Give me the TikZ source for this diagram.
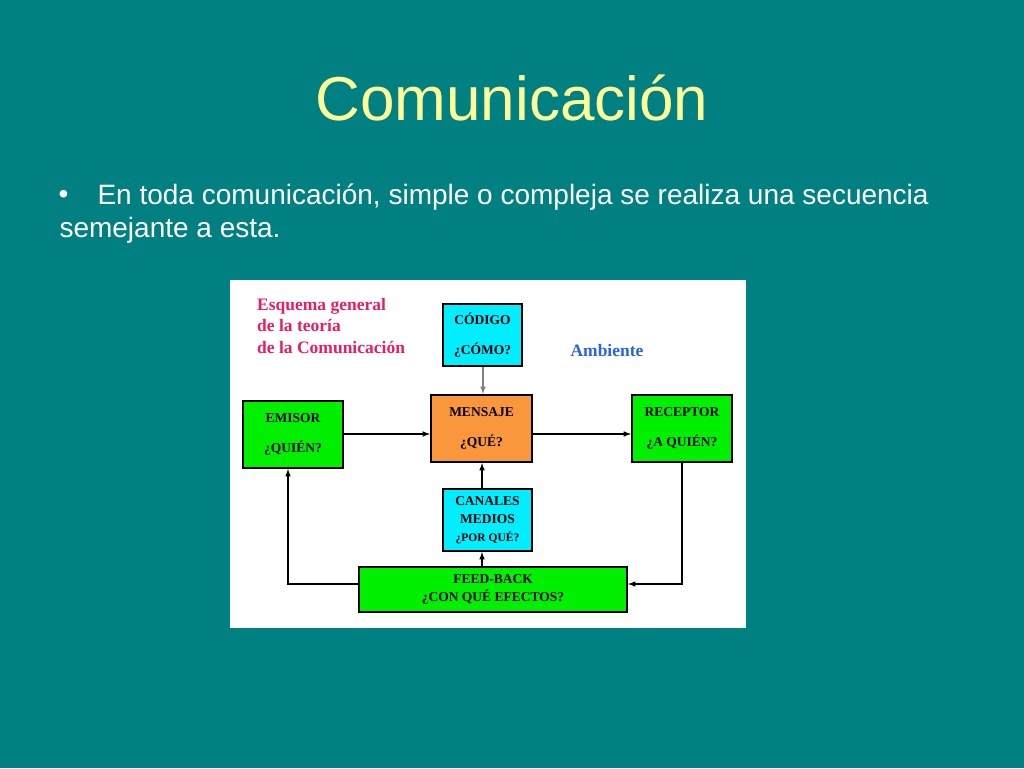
\documentclass[tikz,border=0pt]{standalone}
\usepackage{fontspec}
\setmainfont{Liberation Serif}
\newfontfamily\arialf{Liberation Sans}
\definecolor{teal1}{RGB}{0,128,128}
\definecolor{ttl}{RGB}{255,255,153}
\definecolor{grn}{RGB}{0,240,0}
\definecolor{cyn}{RGB}{0,238,255}
\definecolor{org}{RGB}{250,150,60}
\definecolor{pnk}{RGB}{230,30,100}
\definecolor{blu}{RGB}{40,100,230}
\begin{document}
\begin{tikzpicture}[x=1pt,y=-1pt,
 box/.style={draw=black,line width=2pt,inner sep=0pt,align=center,font=\bfseries\fontsize{13.5}{18}\selectfont},
 arr/.style={-latex,line width=1.5pt}]
\fill[teal1] (0,0) rectangle (1024,768);
\useasboundingbox (0,0) rectangle (1024,768);
\node[ttl,font=\arialf\fontsize{62}{70}\selectfont] (title) at (512,98) {Comunicación};
\node[white,anchor=west,font=\arialf\fontsize{28}{32}\selectfont] (b) at (55,197) {•};
\node[white,anchor=west,font=\arialf\fontsize{28}{32}\selectfont] (l1) at (94,197) {En toda comunicación, simple o compleja se realiza una secuencia};
\node[white,anchor=west,font=\arialf\fontsize{28}{32}\selectfont] (l2) at (56,230) {semejante a esta.};
\fill[white] (230,280) rectangle (746,628);
\node[pnk,anchor=north west,align=left,inner sep=0pt,font=\bfseries\fontsize{17.5}{21.5}\selectfont] (esq) at (257,298) {Esquema general\\de la teoría\\de la Comunicación};
\node[blu,font=\bfseries\fontsize{17.5}{20}\selectfont] (amb) at (607,351) {Ambiente};
\node[box,fill=cyn,minimum width=79pt,minimum height=62pt] (cod) at (482.5,335) {CÓDIGO\\[12pt]¿CÓMO?};
\node[box,fill=org,minimum width=101pt,minimum height=67pt] (men) at (481.5,428.5) {MENSAJE\\[12pt]¿QUÉ?};
\node[box,fill=grn,minimum width=100pt,minimum height=67pt] (emi) at (293,434.5) {EMISOR\\[12pt]¿QUIÉN?};
\node[box,fill=grn,minimum width=100pt,minimum height=67pt] (rec) at (682,428.5) {RECEPTOR\\[12pt]¿A QUIÉN?};
\node[box,fill=cyn,minimum width=89pt,minimum height=62pt,font=\bfseries\fontsize{13.5}{18}\selectfont] (can) at (487.5,520) {CANALES\\MEDIOS\\{\fontsize{11.5}{14}\selectfont ¿POR QUÉ?}};
\node[box,fill=grn,minimum width=268pt,minimum height=45pt,font=\bfseries\fontsize{13.5}{18}\selectfont] (fb) at (493,589.5) {FEED-BACK\\¿CON QUÉ EFECTOS?};
\draw[arr] (emi.east|-0,434) -- (men.west|-0,434);
\draw[arr] (men.east|-0,434) -- (rec.west|-0,434);
\draw[arr,gray] (cod.south-|483,0) -- (men.north-|483,0);
\draw[arr] (can.north-|482,0) -- (men.south-|482,0);
\draw[arr] (fb.north-|482,0) -- (can.south-|482,0);
\draw[arr] (rec.south-|682,0) |- (fb.east|-0,584);
\draw[arr] (fb.west|-0,584) -| (emi.south-|288,0);
\end{tikzpicture}
\end{document}
